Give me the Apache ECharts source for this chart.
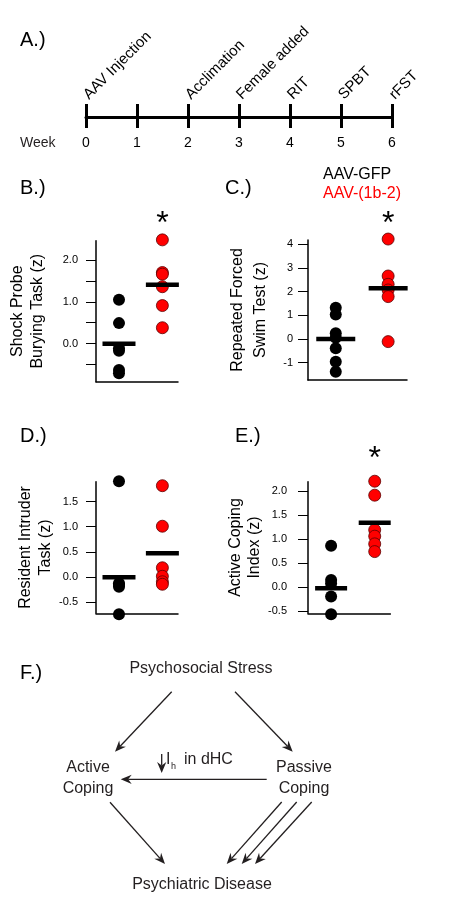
<!DOCTYPE html>
<html>
<head>
<meta charset="utf-8">
<script src="https://cdn.jsdelivr.net/npm/echarts@6/dist/echarts.min.js"></script>
<style>html,body{margin:0;padding:0;background:#fff}#c{width:450px;height:900px}</style>
</head>
<body>
<div id="c"></div>
<script>
// ---------- data ----------
const groups = ['AAV-GFP', 'AAV-(1b-2)'];
const weeks = ['0', '1', '2', '3', '4', '5', '6'];
const events = ['AAV Injection', '', 'Acclimation', 'Female added', 'RIT', 'SPBT', 'rFST'];

const spbtGFP = [1.05, 0.49, -0.11, -0.17, -0.63, -0.71];
const spbtAAV = [2.48, 1.70, 1.66, 1.36, 0.91, 0.38];
const spbtMeans = [0.0, 1.41];
const spbtTicks = [-0.5, 0, 0.5, 1, 1.5, 2];
const spbtLabels = [0, 1, 2];

const rfstGFP = [1.32, 1.04, 0.24, 0.05, -0.39, -0.96, -1.38];
const rfstAAV = [4.22, 2.66, 2.31, 2.07, 1.79, -0.11];
const rfstMeans = [0.0, 2.14];
const rfstTicks = [-1, 0, 1, 2, 3, 4];
const rfstLabels = [-1, 0, 1, 2, 3, 4];

const ritGFP = [1.91, -0.13, -0.16, -0.20, -0.75];
const ritAAV = [1.82, 1.01, 0.18, 0.01, -0.10, -0.15];
const ritMeans = [-0.01, 0.47];
const ritTicks = [-0.5, 0, 0.5, 1, 1.5];
const ritLabels = [-0.5, 0, 0.5, 1, 1.5];

const aciGFP = [0.86, 0.15, 0.08, -0.19, -0.56];
const aciAAV = [2.20, 1.91, 1.19, 1.06, 0.90, 0.74];
const aciMeans = [-0.02, 1.34];
const aciTicks = [-0.5, 0, 0.5, 1, 1.5, 2];
const aciLabels = [-0.5, 0, 0.5, 1, 1.5, 2];

const significant = [true, true, false, true];

// ---------- layout ----------
const FONT = '"Liberation Sans", Arial, sans-serif';
const INK = '#000';
const RED = '#ff0000';

const panels = [
  { gfp: spbtGFP, aav: spbtAAV, means: spbtMeans, ticks: spbtTicks, labels: spbtLabels, fmt: v => v.toFixed(1),
    name: 'Shock Probe\nBurying Task (z)', grid: { left: 96, top: 240.7, width: 82, height: 141 }, min: -0.91, max: 2.46, gap: 48, lh: 20, margin: 18, barW: 33, starDist: -2 },
  { gfp: rfstGFP, aav: rfstAAV, means: rfstMeans, ticks: rfstTicks, labels: rfstLabels, fmt: v => String(v),
    name: 'Repeated Forced\nSwim Test (z)', grid: { left: 308, top: 240, width: 99, height: 140 }, min: -1.73, max: 4.18, gap: 36, lh: 23, margin: 15, barW: 39, starDist: -3 },
  { gfp: ritGFP, aav: ritAAV, means: ritMeans, ticks: ritTicks, labels: ritLabels, fmt: v => v.toFixed(1),
    name: 'Resident Intruder\nTask (z)', grid: { left: 96, top: 481.7, width: 82, height: 131.6 }, min: -0.73, max: 1.9, gap: 40, lh: 20, margin: 18, barW: 33, starDist: 0 },
  { gfp: aciGFP, aav: aciAAV, means: aciMeans, ticks: aciTicks, labels: aciLabels, fmt: v => v.toFixed(1),
    name: 'Active Coping\nIndex (z)', grid: { left: 308, top: 481.7, width: 82.4, height: 131.6 }, min: -0.54, max: 2.19, gap: 41, lh: 19, margin: 21, barW: 32, starDist: 5 }
];

const grids = [{ left: 86, top: 104, width: 306, height: 24 }];
const xAxes = [
  { type: 'value', gridIndex: 0, min: 0, max: 6, interval: 1, position: 'bottom', offset: -11,
    axisLine: { show: true, onZero: false, lineStyle: { color: INK, width: 3 } },
    axisTick: { show: false },
    splitLine: { show: true, lineStyle: { color: INK, width: 3 } },
    axisLabel: { show: true, margin: 19, fontSize: 14, color: INK, fontFamily: FONT, showMinLabel: true, showMaxLabel: true, formatter: v => weeks[v] } },
  { type: 'value', gridIndex: 0, min: 0, max: 6, interval: 1, position: 'top',
    axisLine: { show: false, onZero: false }, axisTick: { show: false }, splitLine: { show: false },
    axisLabel: { show: true, rotate: -45, margin: 7, fontSize: 15, color: INK, fontFamily: FONT, showMinLabel: true, showMaxLabel: true, formatter: v => events[v] } }
];
const yAxes = [{ type: 'value', gridIndex: 0, min: -1, max: 1, show: false }];
const series = [];

panels.forEach((p, i) => {
  const gi = i + 1;
  grids.push(p.grid);
  const xi = xAxes.length;
  const yi = yAxes.length;
  xAxes.push({ type: 'value', gridIndex: gi, min: -0.53, max: 1.36,
    axisLine: { show: true, onZero: false, lineStyle: { color: INK, width: 1.5 } },
    axisTick: { show: false }, axisLabel: { show: false }, splitLine: { show: false } });
  yAxes.push({ type: 'value', gridIndex: gi, min: p.min, max: p.max,
    axisLine: { show: true, onZero: false, lineStyle: { color: INK, width: 1.5 } },
    axisTick: { show: true, length: 10, customValues: p.ticks, lineStyle: { color: INK, width: 1 } },
    axisLabel: { show: true, customValues: p.labels, formatter: p.fmt, margin: p.margin, fontSize: 11, color: INK, fontFamily: FONT },
    splitLine: { show: false },
    name: p.name, nameLocation: 'middle', nameRotate: 90, nameGap: p.gap,
    nameTextStyle: { fontSize: 16, lineHeight: p.lh, color: INK, fontFamily: FONT } });
  const maxIdx = p.aav.indexOf(Math.max(...p.aav));
  series.push({ type: 'scatter', name: groups[0], xAxisIndex: xi, yAxisIndex: yi, clip: false, symbolSize: 12,
    itemStyle: { color: INK, opacity: 1 }, emphasis: { disabled: true },
    data: p.gfp.map(v => [0, v]) });
  series.push({ type: 'scatter', name: groups[1], xAxisIndex: xi, yAxisIndex: yi, clip: false, symbolSize: 12,
    itemStyle: { color: RED, borderColor: '#5a0000', borderWidth: 0.8, opacity: 1 }, emphasis: { disabled: true },
    label: { show: true, position: 'top', distance: p.starDist, fontSize: 32, lineHeight: 22, color: INK, fontFamily: FONT,
      formatter: d => (significant[i] && d.dataIndex === maxIdx) ? '*' : '' },
    data: p.aav.map(v => [1, v]) });
  series.push({ type: 'scatter', name: 'mean', xAxisIndex: xi, yAxisIndex: yi, clip: false, z: 5,
    symbol: 'rect', symbolSize: [p.barW, 4.5], itemStyle: { color: INK, opacity: 1 }, emphasis: { disabled: true },
    data: p.means.map((v, k) => [k, v]) });
});

// ---------- diagram (panel F) ----------
const DIAG = '#231f20';
function arrow(x1, y1, x2, y2) {
  const a = Math.atan2(y2 - y1, x2 - x1);
  const L = 11, W = 4.6, N = 7.5;
  const c = Math.cos(a), s = Math.sin(a);
  const bx = x2 - L * c, by = y2 - L * s;
  const nx = x2 - N * c, ny = y2 - N * s;
  return [
    { type: 'line', shape: { x1: x1, y1: y1, x2: nx, y2: ny }, style: { stroke: DIAG, lineWidth: 1.3 } },
    { type: 'polygon', shape: { points: [[x2, y2], [bx - W * s, by + W * c], [nx, ny], [bx + W * s, by - W * c]] }, style: { fill: DIAG } }
  ];
}
function txt(t, x, y, size, align) {
  return { type: 'text', style: { text: t, x: x, y: y, font: size + 'px ' + FONT, fill: DIAG, align: align || 'center', verticalAlign: 'middle' } };
}
const graphic = [
  txt('Week', 20, 143, 14, 'left'),
  txt('Psychosocial Stress', 201, 669, 16),
  txt('Active', 88, 768, 16), txt('Coping', 88, 789, 16),
  txt('Passive', 304, 768, 16), txt('Coping', 304, 789, 16),
  txt('Psychiatric Disease', 202, 885, 16),
  txt('I', 166, 760, 16, 'left'), txt('h', 171, 767, 9, 'left'), txt('in dHC', 184, 760, 16, 'left'),
  ...arrow(171.7, 691.7, 115, 751.7),
  ...arrow(235, 691.7, 292.7, 751.7),
  ...arrow(266.7, 779.3, 120.7, 779.3),
  ...arrow(161.7, 754, 161.7, 773),
  ...arrow(110, 802.3, 165, 864),
  ...arrow(281.7, 802, 226.7, 864),
  ...arrow(296.7, 802, 241.7, 864),
  ...arrow(311.7, 802, 255, 864)
];

const titleStyle = { fontSize: 20, fontWeight: 'normal', color: INK, fontFamily: FONT };
const titles = [['A.)', 20, 30], ['B.)', 20, 178], ['C.)', 225, 178], ['D.)', 20, 426], ['E.)', 235, 426], ['F.)', 20, 663]]
  .map(t => ({ text: t[0], left: t[1], top: t[2], padding: 0, textStyle: titleStyle }));

const chart = echarts.init(document.getElementById('c'), null, { renderer: 'canvas' });
chart.setOption({
  animation: false,
  backgroundColor: '#fff',
  textStyle: { fontFamily: FONT },
  title: titles,
  legend: { orient: 'vertical', left: 312, top: 162, itemWidth: 0, itemHeight: 0, itemGap: 3, selectedMode: false,
    textStyle: { fontSize: 16, fontFamily: FONT },
    data: [{ name: groups[0], textStyle: { color: INK } }, { name: groups[1], textStyle: { color: RED } }] },
  grid: grids,
  xAxis: xAxes,
  yAxis: yAxes,
  series: series,
  graphic: graphic
});
</script>
</body>
</html>
